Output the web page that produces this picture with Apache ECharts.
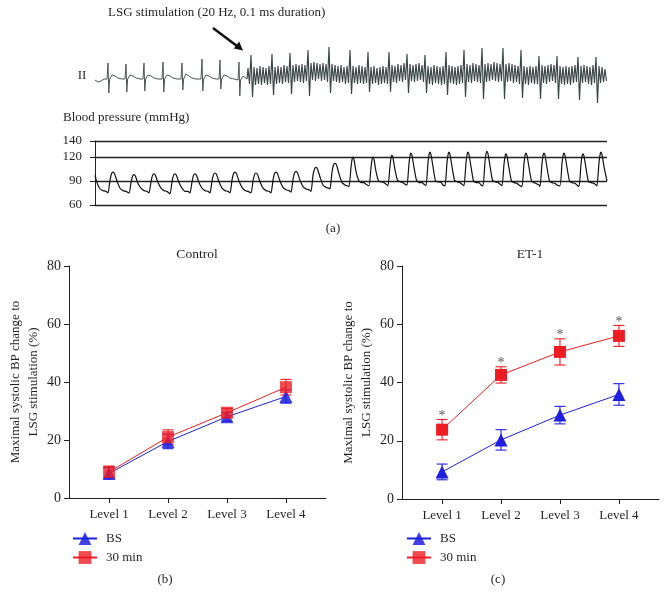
<!DOCTYPE html>
<html><head><meta charset="utf-8">
<script src="https://cdn.jsdelivr.net/npm/echarts@6/dist/echarts.min.js"></script>
<style>html,body{margin:0;padding:0;background:#fff}#c{width:668px;height:606px}</style>
</head><body><div id="c"></div>
<script>
// ---------- data ----------
const levels = ['Level 1', 'Level 2', 'Level 3', 'Level 4'];
const ctrlBS = [8.5, 19.5, 28, 35];
const ctrlBSErr = [2, 2.5, 1.5, 2.3];
const ctrl30 = [9, 21, 29.4, 38.2];
const ctrl30Err = [2, 2.5, 1.5, 2.7];
const et1BS = [9.3, 20.3, 28.8, 35.9];
const et1BSErr = [2.7, 3.5, 3, 3.7];
const et130 = [23.8, 42.6, 50.5, 56];
const et130Err = [3.5, 2.8, 4.5, 3.6];
const et1Sig = ['*', '*', '*', '*'];
const pctTicks = [0, 20, 40, 60, 80];
const bpTicks = [60, 90, 120, 140];

// ECG lead II before stimulation (time, amplitude; arbitrary units)
const ecgPreT = [0,3,6,9,12, 13,13.8,14.6,17,20,23,27,30, 31,31.8,32.6,35,38,41,45,48,
  49,49.8,50.6,53,56,59,63,67, 68,68.8,69.6,72,75,78,82,86, 87,87.8,88.6,91,94,97,101,106,
  107,107.8,108.6,111,114,117,121,124, 125,125.8,126.6,129,132,135,139,143, 144,144.8,145.6,148,150,152];
const ecgPreV = [-1,-3,-2,0,0, 16,-14,0,4,3,1,0,0, 15,-13,0,4,3,1,0,0,
  16,-12,0,4,3,1,0,0, 17,-13,0,4,3,1,0,0, 16,-11,0,5,3,1,0,0,
  20,-12,0,4,3,1,0,0, 19,-10,0,4,3,1,0,-1, 17,-17,-1,3,2,0];
// ECG during stimulation, sampled every 1.5 time units from t = 153
const ecgStimStart = 153, ecgStimStep = 1.5;
const ecgStimV = [
  11,-5,24,-18,12,-6,11,-5,13,-6,12,-4,11,-6,13,-5,25,-16,12,-5,
  13,-4,12,-5,14,-3,13,-4,26,-15,14,-3,15,-2,14,-3,15,-4,14,-2,
  29,-17,16,-1,17,-2,16,0,15,-2,16,-1,15,-3,32,-14,15,-2,14,-3,
  13,-4,14,-3,12,-5,13,-4,29,-15,13,-4,12,-5,14,-4,13,-5,12,-4,
  27,-13,12,-5,13,-4,11,-6,12,-5,13,-4,12,-5,27,-13,14,-3,13,-4,
  15,-2,14,-3,16,-1,25,-14,15,-2,14,-3,15,-2,16,-1,14,-3,24,-14,
  13,-5,12,-6,14,-4,13,-5,12,-6,13,-5,27,-16,14,-4,13,-5,12,-6,
  13,-5,14,-4,29,-18,15,-3,14,-4,16,-2,15,-3,14,-4,31,-20,15,-3,
  16,-2,15,-1,17,-2,16,-3,15,-2,31,-20,15,-3,16,-2,15,-4,14,-3,
  13,-5,29,-19,13,-5,12,-6,13,-4,12,-5,13,-5,23,-20,14,-4,13,-5,
  14,-3,15,-2,14,-4,23,-20,13,-5,12,-6,13,-5,12,-6,13,-4,14,-3,
  22,-21,13,-4,14,-3,13,-5,12,-6,14,-4,22,-24,13,-4,12,-3,10,-2];

// Blood pressure trace (time, mmHg)
const bpT = [0,2,5,8,11,
  13,15,16.5,18,19.5,22,25,28,31,
  34,36,37.5,39,40.5,43,46,49,52,
  54,56,57.5,59,60.5,63,66,69,72,
  75,77,78.5,80,81.5,84,87,90,93,
  95,97,98.5,100,101.5,104,107,110,113,
  115,117,118.5,120,121.5,124,127,130,133,
  135,137,138.5,140,141.5,144,147,150,153,
  156,158,159.5,161,162.5,165,168,171,174,
  176,178,179.5,181,182.5,185,188,191,194,
  196,198,199.5,201,202.5,205,208,211,214,
  216,218,219.5,221,222.5,225,228,231,234,
  235,237,238.5,240,241.5,244,247,250,252,
  254,256,257.2,258,259,261,263.5,266,269,271,
  274,276,277.2,278,279,281,283.5,286,289,291,
  293,295,296.2,297,298,300,302.5,305,308,310,
  312,314,315.2,316,317,319,321.5,324,327,329,
  331,333,334.2,335,336,338,340.5,343,346,348,
  350,352,353.2,354,355,357,359.5,362,365,367,
  369,371,372.2,373,374,376,378.5,381,384,386,
  388,390,391.2,392,393,395,397.5,400,403,405,
  407,409,410.2,411,412,414,416.5,419,422,425,
  427,429,430.2,431,432,434,436.5,439,441,444,
  445,447,448.2,449,450,452,454.5,457,460,462,
  465,467,468.2,469,470,472,474.5,477,480,482,
  484,486,487.2,488,489,491,493.5,496,499,501,
  502,504,505.2,506,507,509,512];
const bpV = [97,88,80,78,77,
  75,91,99,101,99,90,81,78,77,
  75,88,96,98,96,87,81,78,77,
  75,89,97,99,97,88,81,78,77,
  74,89,97,99,97,88,81,77,77,
  75,89,97,99,97,88,81,78,77,
  75,90,98,100,98,89,81,78,77,
  75,91,99,101,99,90,82,78,77,
  75,90,98,100,98,89,81,78,77,
  75,91,99,101,99,90,82,79,78,
  76,92,100,102,100,91,83,80,79,
  77,97,105,107,105,95,85,82,81,
  80,101,110,112,110,99,88,85,84,
  83,107,118,120,117,102,91,88,88,86,
  84,107,118,120,117,102,90,89,88,86,
  84,109,120,122,119,104,91,89,88,86,
  85,112,123,125,122,107,91,88,88,86,
  84,113,124,126,123,108,90,89,88,85,
  84,113,124,126,123,108,91,89,88,86,
  84,113,124,126,123,108,90,88,88,85,
  84,114,125,127,124,109,91,89,88,86,
  84,111,122,124,121,106,90,88,87,84,
  83,112,123,125,122,107,90,88,87,85,
  83,112,123,125,122,107,90,88,87,85,
  84,112,123,125,122,107,90,88,87,85,
  83,111,122,124,121,106,89,88,87,85,
  84,113,124,126,123,108,90];

// ---------- chart ----------
const FONT = '"Liberation Serif", "DejaVu Serif", serif';
const INK = '#231f20';
const BLUE = '#1f1fe0';
const RED = '#ee1d23';

const ecgPre = ecgPreT.map((t, i) => [t, ecgPreV[i]]);
const ecgStim = [[ecgPreT[ecgPreT.length - 1], ecgPreV[ecgPreV.length - 1]]]
  .concat(ecgStimV.map((v, i) => [ecgStimStart + i * ecgStimStep, v]));
const bp = bpT.map((t, i) => [t, bpV[i]]);

const pts = (arr) => arr.map((v, i) => [i + 1, v]);
const errs = (m, e) => m.map((v, i) => [i + 1, v - e[i], v + e[i]]);

function errRender(color) {
  return function (params, api) {
    const x = api.value(0);
    const lo = api.coord([x, api.value(1)]);
    const hi = api.coord([x, api.value(2)]);
    const w = 5.5;
    const style = { stroke: color, lineWidth: 1.1 };
    return { type: 'group', children: [
      { type: 'line', shape: { x1: lo[0], y1: lo[1], x2: hi[0], y2: hi[1] }, style },
      { type: 'line', shape: { x1: lo[0] - w, y1: lo[1], x2: lo[0] + w, y2: lo[1] }, style },
      { type: 'line', shape: { x1: hi[0] - w, y1: hi[1], x2: hi[0] + w, y2: hi[1] }, style }
    ] };
  };
}

function levelX(gridIndex) {
  return {
    type: 'value', gridIndex, min: 0.32, max: 4.68,
    axisLine: { show: true, lineStyle: { color: INK, width: 1 } },
    axisTick: { show: true, customValues: [1, 2, 3, 4], length: 5, lineStyle: { color: INK } },
    axisLabel: { customValues: [1, 2, 3, 4], formatter: v => levels[Math.round(v) - 1],
      fontFamily: FONT, fontSize: 13, color: INK, margin: 10 },
    splitLine: { show: false }
  };
}
function pctY(gridIndex) {
  return {
    type: 'value', gridIndex, min: pctTicks[0], max: pctTicks[pctTicks.length - 1], interval: 20,
    axisLine: { show: true, lineStyle: { color: INK, width: 1 } },
    axisTick: { show: true, length: 5, lineStyle: { color: INK } },
    axisLabel: { fontFamily: FONT, fontSize: 14, color: INK, margin: 8 },
    splitLine: { show: false },
    name: 'Maximal systolic BP change to\nLSG stimulation (%)',
    nameLocation: 'middle', nameRotate: 90, nameGap: 26,
    nameTextStyle: { fontFamily: FONT, fontSize: 13, color: INK, lineHeight: 18 }
  };
}

const lineSeries = (name, xi, data, symbol, color, z, opacity) => ({
  name, type: 'line', xAxisIndex: xi, yAxisIndex: xi, data, symbol, symbolSize: symbol === 'rect' ? 12 : 13,
  z, color, lineStyle: { color, width: 1 }, itemStyle: { color, opacity }, emphasis: { disabled: true }
});
const errSeries = (name, xi, data, color, z) => ({
  name, type: 'custom', xAxisIndex: xi, yAxisIndex: xi, data, z, color, itemStyle: { color },
  encode: { x: 0, y: [1, 2] }, renderItem: errRender(color), silent: true
});

const gridBase = { outerBoundsMode: 'none', containLabel: false };
const legendBase = { data: ['BS', '30 min'], orient: 'vertical', top: 527, itemWidth: 24, itemHeight: 16, itemGap: 6,
  selectedMode: false, textStyle: { fontFamily: FONT, fontSize: 13, color: INK, padding: [0, 0, 0, 4] } };

const option = {
  animation: false,
  textStyle: { fontFamily: FONT },
  grid: [
    Object.assign({ left: 95, top: 40, width: 512, height: 65 }, gridBase),
    Object.assign({ left: 95, top: 141, width: 512, height: 64 }, gridBase),
    Object.assign({ left: 69, top: 266, width: 257, height: 232 }, gridBase),
    Object.assign({ left: 402, top: 266, width: 257, height: 233 }, gridBase)
  ],
  xAxis: [
    { type: 'value', gridIndex: 0, min: 0, max: 512, show: false },
    { type: 'value', gridIndex: 1, min: 0, max: 512, show: false },
    levelX(2), levelX(3)
  ],
  yAxis: [
    { type: 'value', gridIndex: 0, min: -26, max: 39, show: false },
    { type: 'value', gridIndex: 1, min: bpTicks[0], max: bpTicks[bpTicks.length - 1], offset: 3,
      axisLine: { show: true, lineStyle: { color: INK, width: 1 } },
      axisTick: { show: true, customValues: bpTicks, length: 5, lineStyle: { color: INK } },
      axisLabel: { customValues: bpTicks, fontFamily: FONT, fontSize: 13, color: INK, margin: 10 },
      splitLine: { show: true, lineStyle: { color: '#222', width: 1.3 } } },
    pctY(2), pctY(3)
  ],
  legend: [
    Object.assign({ left: 67 }, legendBase),
    Object.assign({ left: 401 }, legendBase)
  ],
  graphic: [
    { type: 'text', left: 108, top: 6, style: { text: 'LSG stimulation (20 Hz, 0.1 ms duration)', font: '13px ' + FONT, fill: INK } },
    { type: 'line', shape: { x1: 213, y1: 28, x2: 237, y2: 46 }, style: { stroke: '#111', lineWidth: 2.6 } },
    { type: 'polygon', shape: { points: [[243, 50.5], [233.8, 48.6], [239.2, 41.4]] }, style: { fill: '#111' } },
    { type: 'text', x: 82, y: 76, style: { text: 'II', font: '13px ' + FONT, fill: INK, textAlign: 'center', textVerticalAlign: 'middle' } },
    { type: 'text', x: 63, y: 118, style: { text: 'Blood pressure (mmHg)', font: '13px ' + FONT, fill: INK, textAlign: 'left', textVerticalAlign: 'middle' } },
    { type: 'text', x: 333, y: 229, style: { text: '(a)', font: '13px ' + FONT, fill: INK, textAlign: 'center', textVerticalAlign: 'middle' } },
    { type: 'text', x: 197, y: 254, style: { text: 'Control', font: '13.5px ' + FONT, fill: INK, textAlign: 'center', textVerticalAlign: 'middle' } },
    { type: 'text', x: 530, y: 254, style: { text: 'ET-1', font: '13.5px ' + FONT, fill: INK, textAlign: 'center', textVerticalAlign: 'middle' } },
    { type: 'text', x: 165, y: 580, style: { text: '(b)', font: '13px ' + FONT, fill: INK, textAlign: 'center', textVerticalAlign: 'middle' } },
    { type: 'text', x: 498, y: 580, style: { text: '(c)', font: '13px ' + FONT, fill: INK, textAlign: 'center', textVerticalAlign: 'middle' } }
  ],
  series: [
    { name: 'ECG', type: 'line', xAxisIndex: 0, yAxisIndex: 0, data: ecgPre, symbol: 'none',
      lineStyle: { color: '#4d5553', width: 1 }, silent: true },
    { name: 'ECG stim', type: 'line', xAxisIndex: 0, yAxisIndex: 0, data: ecgStim, symbol: 'none',
      lineStyle: { color: '#3b4745', width: 1.15 }, silent: true },
    { name: 'BP', type: 'line', xAxisIndex: 1, yAxisIndex: 1, data: bp, symbol: 'none', smooth: 0.2,
      lineStyle: { color: '#111', width: 1.2 }, silent: true },

    errSeries('BS error', 2, errs(ctrlBS, ctrlBSErr), BLUE, 2),
    errSeries('30 min error', 2, errs(ctrl30, ctrl30Err), RED, 3),
    lineSeries('BS', 2, pts(ctrlBS), 'triangle', BLUE, 4, 0.85),
    lineSeries('30 min', 2, pts(ctrl30), 'rect', RED, 5, 0.8),

    errSeries('BS error', 3, errs(et1BS, et1BSErr), BLUE, 2),
    errSeries('30 min error', 3, errs(et130, et130Err), RED, 3),
    lineSeries('BS', 3, pts(et1BS), 'triangle', BLUE, 4, 1),
    lineSeries('30 min', 3, pts(et130), 'rect', RED, 5, 1),
    { name: 'sig', type: 'scatter', xAxisIndex: 3, yAxisIndex: 3, symbolSize: 0, silent: true,
      data: et130.map((v, i) => [i + 1, v + et130Err[i]]),
      label: { show: true, position: 'top', distance: -4, formatter: p => et1Sig[p.dataIndex],
        fontFamily: FONT, fontSize: 14, color: INK } }
  ]
};

const chart = echarts.init(document.getElementById('c'), null, { renderer: 'canvas' });
chart.setOption(option);
</script>
</body></html>
